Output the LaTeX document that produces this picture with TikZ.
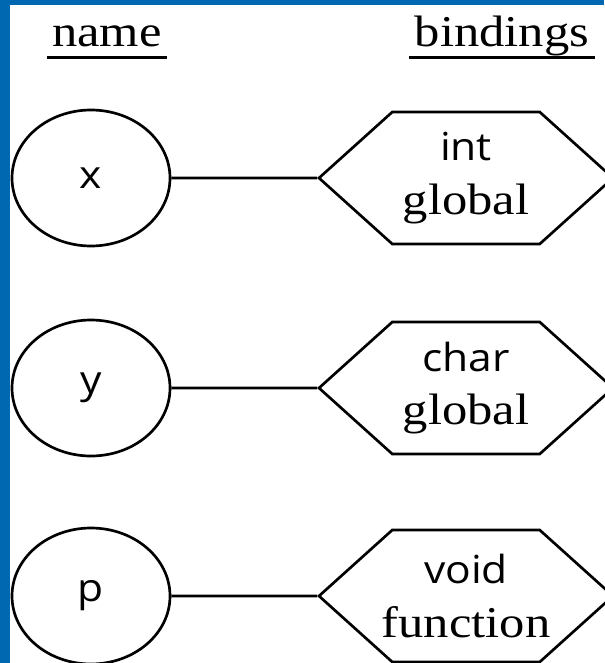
\documentclass[tikz,border=0pt]{standalone}
\usepackage{fontspec}
\setmainfont{Liberation Serif}
\setsansfont{Open Sans}
\usetikzlibrary{shapes.geometric,shapes.symbols}
\definecolor{frameblue}{RGB}{0,103,177}
\newcommand{\wide}[1]{\scalebox{1.15}[1]{#1}}
\newcommand{\typename}[1]{\makebox[0pt]{\sffamily\fontsize{29}{40}\selectfont\scalebox{1.1}[1]{#1}}}
\newcommand{\scopename}[1]{\makebox[0pt]{\wide{#1}}}

\begin{document}
\begin{tikzpicture}[x=0.75pt,y=-0.75pt]
            \tikzstyle{heading}=[font=\fontsize{33}{40}\selectfont, anchor=base, text depth=0pt, inner xsep=4pt, inner ysep=7.5pt]
            \tikzstyle{underline}=[line width=2.3pt]
            \tikzstyle{namenode}=[draw, ellipse, line width=2pt, minimum width=118.5pt, minimum height=102pt, font=\sffamily\fontsize{29}{35}\selectfont]
            \tikzstyle{bindnode}=[draw, signal, signal to=east and west, signal pointer angle=84, line width=2pt, minimum width=220.5pt, minimum height=99pt, inner sep=0pt, align=center, font=\fontsize{33}{40}\selectfont]
            \tikzstyle{link}=[line width=2pt]
            \useasboundingbox (0,0) rectangle (604,663);
            \fill[frameblue] (0,0) rectangle (10,663);
            \fill[frameblue] (0,0) rectangle (604,5);
            \node[heading] (name) at (107,47) {\wide{name}};
            \node[heading] (bindings) at (502,47) {\wide{bindings}};
            \draw[underline] (name.south west) -- (name.south east);
            \draw[underline] (bindings.south west) -- (bindings.south east);
            \node[namenode] (x) at (91,178) {\scalebox{1.1}[1]{x}};
            \node[namenode] (y) at (91,388) {\scalebox{1.1}[1]{y}};
            \node[namenode] (p) at (91,596) {\scalebox{1.1}[1]{p}};
            \node[bindnode] (x-bind) at (466,178) {\typename{int}\\\scopename{global}};
            \node[bindnode] (y-bind) at (466,388) {\typename{char}\\\scopename{global}};
            \node[bindnode] (p-bind) at (466,596) {\typename{void}\\\scopename{function}};
            \draw[link] (x) -- (x-bind);
            \draw[link] (y) -- (y-bind);
            \draw[link] (p) -- (p-bind);
\end{tikzpicture}
\end{document}
